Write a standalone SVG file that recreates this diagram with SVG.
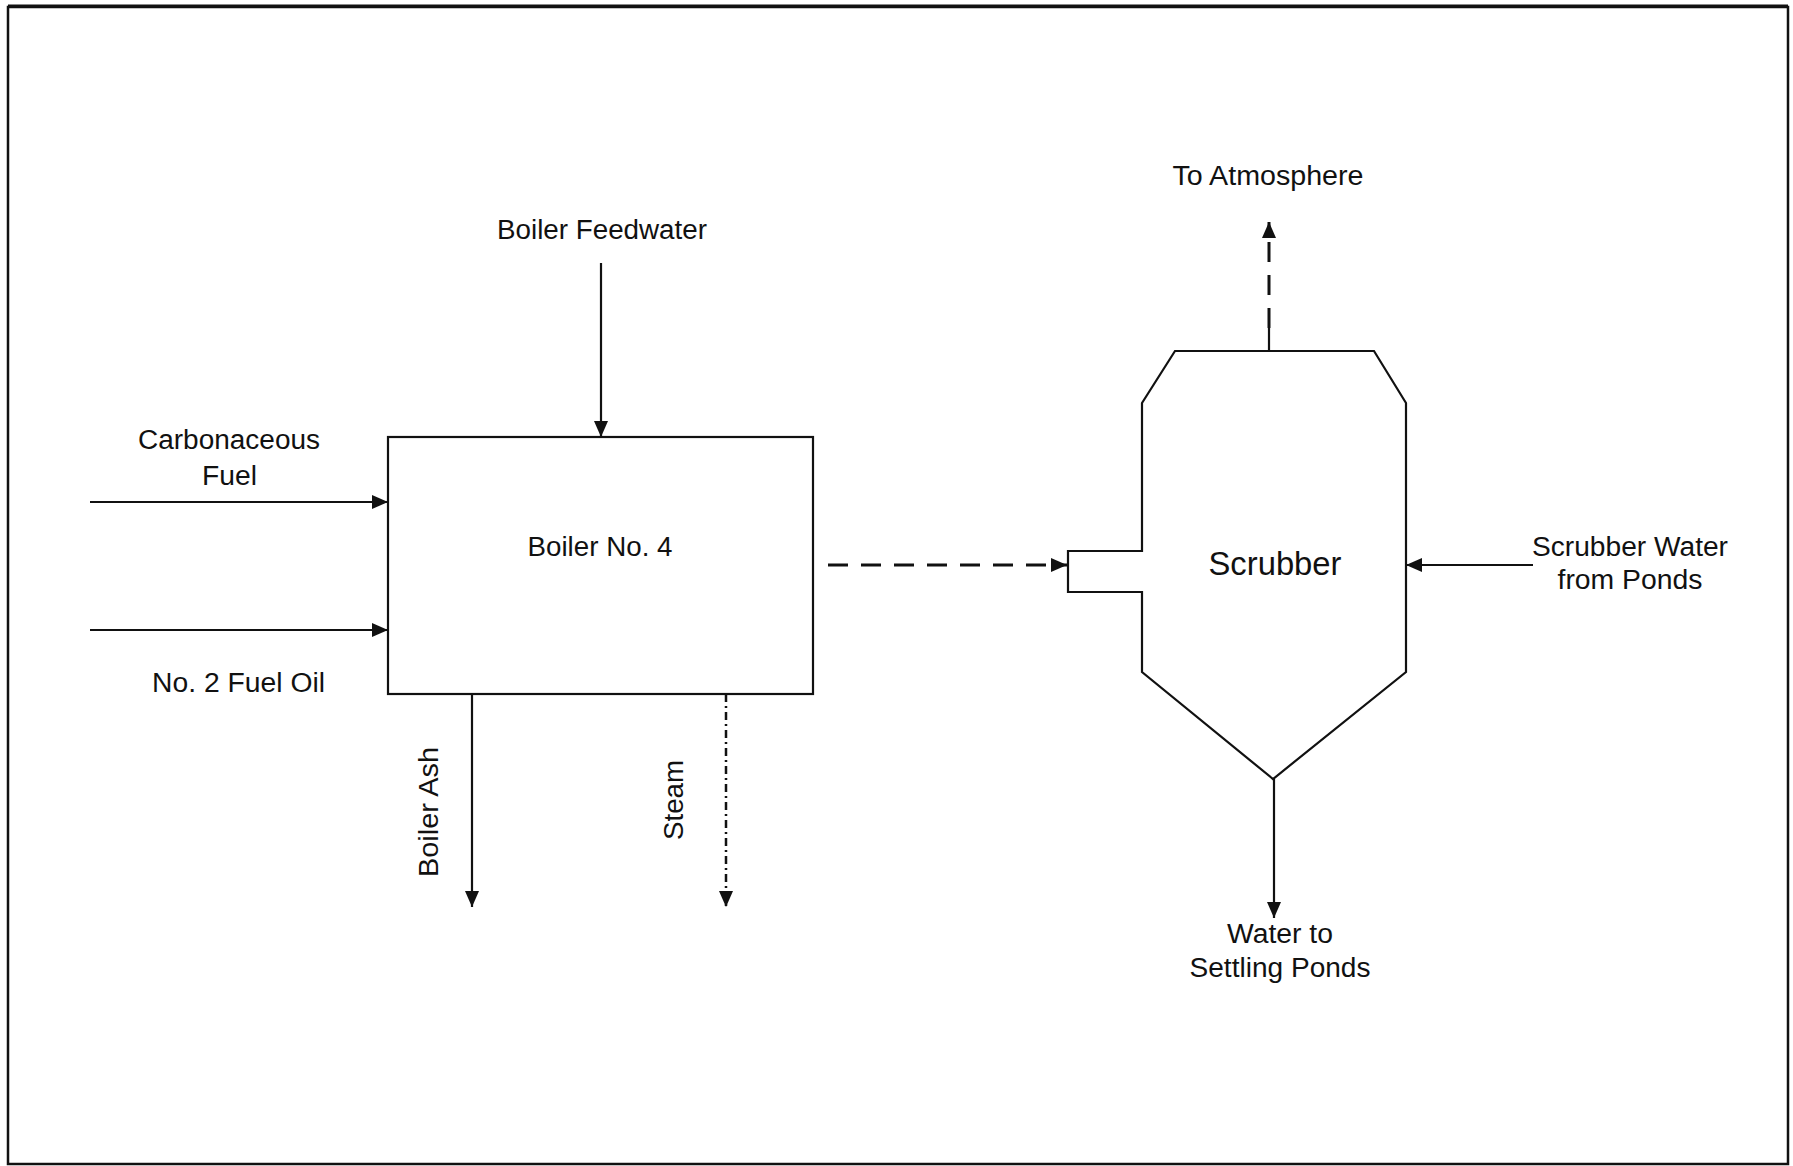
<svg xmlns="http://www.w3.org/2000/svg" width="1793" height="1166" viewBox="0 0 1793 1166">
<style>
text{font-family:"Liberation Sans",Arial,sans-serif;font-size:27px;fill:#111;}
.shape{fill:#fff;stroke:#111;stroke-width:2.2;}
.ln{fill:none;stroke:#111;stroke-width:2.2;}
.dash{fill:none;stroke:#111;stroke-width:3;stroke-dasharray:20 13;}
.dd{fill:none;stroke:#111;stroke-width:2.5;stroke-dasharray:8 4 2 4;}
</style>
<defs>
<marker id="ah" markerWidth="16" markerHeight="14" refX="16" refY="7" orient="auto" markerUnits="userSpaceOnUse">
<path d="M0,0 L16,7 L0,14 Z" fill="#111"/>
</marker>
</defs>
<rect x="0" y="0" width="1793" height="1166" fill="#fff"/>
<rect x="8" y="7" width="1780" height="1157" fill="none" stroke="#111" stroke-width="2.5"/>
<line x1="8" y1="6" x2="1788" y2="6" stroke="#111" stroke-width="3"/>

<g id="boiler">
<rect class="shape" x="388" y="437" width="425" height="257"/>
<text x="600" y="556" text-anchor="middle" textLength="145" lengthAdjust="spacingAndGlyphs">Boiler No. 4</text>
</g>

<g id="scrubber">
<path class="shape" d="M1175,351 L1374,351 L1406,403 L1406,672 L1273,779 L1142,672 L1142,592 L1068,592 L1068,551 L1142,551 L1142,403 Z"/>
<text x="1275" y="575" text-anchor="middle" style="font-size:33px" textLength="133" lengthAdjust="spacingAndGlyphs">Scrubber</text>
</g>

<g id="connectors">
<line class="ln" x1="601" y1="263" x2="601" y2="437" marker-end="url(#ah)"/>
<line class="ln" x1="90" y1="502" x2="388" y2="502" marker-end="url(#ah)"/>
<line class="ln" x1="90" y1="630" x2="388" y2="630" marker-end="url(#ah)"/>
<line class="ln" x1="472" y1="694" x2="472" y2="907" marker-end="url(#ah)"/>
<line class="dd" x1="726" y1="694" x2="726" y2="907" marker-end="url(#ah)"/>
<line class="dash" x1="828" y1="565" x2="1067" y2="565" marker-end="url(#ah)"/>
<line class="ln" x1="1269" y1="351" x2="1269" y2="328"/>
<line class="dash" x1="1269" y1="328" x2="1269" y2="222" marker-end="url(#ah)"/>
<line class="ln" x1="1533" y1="565" x2="1406" y2="565" marker-end="url(#ah)"/>
<line class="ln" x1="1274" y1="779" x2="1274" y2="918" marker-end="url(#ah)"/>
</g>

<g id="labels">
<text x="602" y="239" text-anchor="middle" textLength="210" lengthAdjust="spacingAndGlyphs">Boiler Feedwater</text>
<text x="229" y="449" text-anchor="middle" textLength="182" lengthAdjust="spacingAndGlyphs">Carbonaceous</text>
<text x="229.5" y="485" text-anchor="middle" textLength="55" lengthAdjust="spacingAndGlyphs">Fuel</text>
<text x="238.5" y="692" text-anchor="middle" textLength="173" lengthAdjust="spacingAndGlyphs">No. 2 Fuel Oil</text>
<text transform="translate(438,812) rotate(-90)" text-anchor="middle" textLength="130" lengthAdjust="spacingAndGlyphs">Boiler Ash</text>
<text transform="translate(683,800) rotate(-90)" text-anchor="middle" textLength="80" lengthAdjust="spacingAndGlyphs">Steam</text>
<text x="1268" y="185" text-anchor="middle" textLength="191" lengthAdjust="spacingAndGlyphs">To Atmosphere</text>
<text x="1630" y="556" text-anchor="middle" textLength="196" lengthAdjust="spacingAndGlyphs">Scrubber Water</text>
<text x="1630" y="589" text-anchor="middle" textLength="145" lengthAdjust="spacingAndGlyphs">from Ponds</text>
<text x="1280" y="943" text-anchor="middle" textLength="106" lengthAdjust="spacingAndGlyphs">Water to</text>
<text x="1280" y="977" text-anchor="middle" textLength="181" lengthAdjust="spacingAndGlyphs">Settling Ponds</text>
</g>
</svg>
